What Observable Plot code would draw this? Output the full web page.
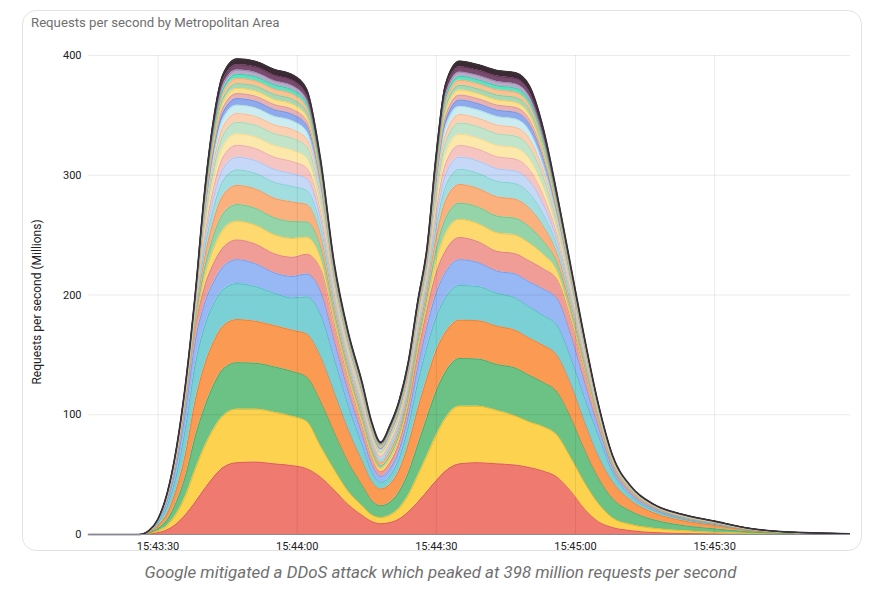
<!DOCTYPE html>
<html><head><meta charset="utf-8">
<script src="https://cdn.jsdelivr.net/npm/d3@7"></script>
<script src="https://cdn.jsdelivr.net/npm/@observablehq/plot@0.6"></script>
<style>
body{margin:0;background:#fff;font-family:Roboto,"Liberation Sans",Arial,sans-serif;}
#card{position:absolute;left:22px;top:10px;width:840px;height:541px;border:1px solid #e3e3e3;border-radius:14px;box-sizing:border-box;}
#title{position:absolute;left:31px;top:15px;font-size:13.2px;color:#6f6f6f;}
#chart{position:absolute;left:0;top:40px;}
#caption{position:absolute;left:0;width:881px;top:562px;text-align:center;font-style:italic;font-size:16.9px;color:#6f6f6f;}
</style></head><body>
<div id="card"></div>
<div id="title">Requests per second by Metropolitan Area</div>
<div id="chart"></div>
<div id="caption">Google mitigated a DDoS attack which peaked at 398 million requests per second</div>
<script>
const times = ["15:43:15","15:43:26","15:43:28","15:43:30","15:43:32","15:43:34","15:43:36","15:43:38","15:43:40","15:43:42","15:43:44","15:43:47","15:43:51","15:43:55","15:43:59","15:44:02","15:44:05","15:44:08","15:44:11","15:44:14","15:44:16","15:44:18","15:44:20","15:44:22","15:44:24","15:44:26","15:44:28","15:44:30","15:44:32","15:44:35","15:44:39","15:44:43","15:44:47","15:44:50","15:44:53","15:44:56","15:44:59","15:45:02","15:45:05","15:45:08","15:45:12","15:45:17","15:45:23","15:45:30","15:45:37","15:45:45","15:45:59"];
const xTicks = ["15:43:30","15:44:00","15:44:30","15:45:00","15:45:30"];
const yTicks = [0,100,200,300,400];

const a01 = [0,0,0.5,1.5,4,9,17,27,38,48,56,60,60.5,59,57.5,55,48,37,25,16,11,9,10,13,19,27,36,45,53,59,60,59,58,56,53,48,36,21,10.5,5.8,3.2,1.6,0.9,0.5,0.25,0.1,0.05];
const a02 = [0,0,0.3,1.5,3.5,8.5,16,27,35,40,43,44.5,44,43,41,39.5,26,17,11,8,5.5,5,6,9,14,22,30,38,44,48,47,44.5,41,38,37,35,28,22,15,8,5,3.5,2.2,1.2,0.6,0.25,0.1];
const a03 = [0,0,0.4,2,5,10,17,27.5,33,37,39,39,38.5,38,37.5,37,37,31,24,17,12,10,11,14,19,26,32,37,39,40,39.5,38.5,40,39,37,36,33,27,21,16,11,7,4.5,3,1.5,0.6,0.2];
const a04 = [0,0,0.5,2.5,5.5,11,19,30,35,36,36,36,35,34.5,34.5,36,37.5,33,27,20,16,14,15,18,24,30,33,34,33,32,32,32,31.5,31,31,30.5,28,23,18,14,9,5.8,4,2.8,1.2,0.5,0.1];
const a05 = [0,0,0.4,2.5,6,12,22,30,32.5,32,30.5,30,29,27,27,31,35,28,20,13,8,5.5,7,10,15,22,26,28,29,29,28.5,27.5,27,26,25,25,22,20,17,8,3.5,2,1.3,0.8,0.4,0.15,0.05];
const a06 = [0,0,0.2,1.5,4,8,14,19.5,19,18,19,20,19,17,18,19,19.5,15,12,9,6.5,5,6,7,9,13,17,20,21,21.5,20,18.5,20,21,22,22.5,19,13,7,3.5,2,1.2,0.8,0.5,0.25,0.1,0.03];
const a07 = [0,0,0.1,0.8,2.5,5,8,11,14,15.5,16,16.5,16.5,16,16,16.5,19,14,10,7,5.5,4,5,6,8,11,14,17,18,18.5,17.5,16.5,17,17.5,17,16,13,9,5,2.5,1.5,1,0.6,0.4,0.2,0.08,0.02];
const a08 = [0,0,0.1,0.1,0.5,1,1.6,2.9,8.1,12.4,14.8,15.5,15.7,15.8,15.7,14.2,9.5,5.2,4.1,3.8,3.1,2.5,3.2,3.6,3.8,4.5,5.3,10.2,14.3,15.1,15.1,15.5,15.5,15,12.1,7.4,4.6,2.9,1.5,0.8,0.5,0.3,0.26,0.2,0.11,0.05,0.01];
const a09 = [0,0,0.1,0.1,0.4,0.9,1.4,2.6,7.3,11.2,13.4,14,14.1,14.3,14.1,12.8,8.5,4.7,3.7,3.4,2.8,2.3,2.9,3.2,3.4,4.1,4.8,9.2,12.9,13.6,13.7,14,14,13.6,10.9,6.7,4.2,2.6,1.3,0.8,0.45,0.27,0.24,0.18,0.1,0.05,0.01];
const a10 = [0,0,0.1,0.1,0.5,1,1.6,3,8.3,12.8,15.3,16,16.2,16.3,16.2,14.6,9.8,5.4,4.2,3.9,3.2,2.6,3.3,3.7,3.9,4.7,5.5,10.5,14.7,15.6,15.6,16,16,15.5,12.5,7.6,4.8,3,1.5,0.9,0.5,0.3,0.27,0.21,0.12,0.05,0.01];
const a11 = [0,0,0.1,0.1,0.4,0.8,1.3,2.4,6.8,10.4,12.4,13,13.1,13.3,13.1,11.9,7.9,4.4,3.4,3.2,2.6,2.1,2.7,3,3.2,3.8,4.5,8.5,12,12.7,12.7,13,13,12.6,10.2,6.2,3.9,2.4,1.2,0.7,0.42,0.25,0.22,0.17,0.09,0.04,0.01];
const a12 = [0,0,0.05,0.05,0.3,0.7,1.1,1.9,5.5,8.4,10,10.5,10.6,10.7,10.6,9.6,6.4,3.5,2.8,2.6,2.1,1.7,2.2,2.4,2.6,3.1,3.6,6.9,9.7,10.2,10.3,10.5,10.5,10.2,8.2,5,3.1,1.9,1,0.57,0.34,0.2,0.18,0.14,0.08,0.03,0.01];
const a13 = [0,0,0.05,0.05,0.3,0.6,1,1.9,5.2,8,9.6,10,10.1,10.2,10.1,9.1,6.1,3.4,2.7,2.5,2,1.6,2.1,2.3,2.5,2.9,3.4,6.6,9.2,9.7,9.8,10,10,9.7,7.8,4.8,3,1.9,1,0.54,0.32,0.19,0.17,0.13,0.07,0.03,0.01];
const a14 = [0,0,0.05,0.05,0.3,0.6,1,1.8,4.9,7.6,9.1,9.5,9.6,9.7,9.6,8.7,5.8,3.2,2.5,2.3,1.9,1.5,2,2.2,2.3,2.8,3.3,6.2,8.7,9.3,9.3,9.5,9.5,9.2,7.4,4.5,2.8,1.8,0.9,0.51,0.3,0.18,0.16,0.12,0.07,0.03,0.01];
const a15 = [0,0,0.05,0.05,0.3,0.6,1,1.8,5,7.8,9.3,9.7,9.8,9.9,9.8,8.9,5.9,3.3,2.6,2.4,2,1.6,2,2.3,2.4,2.8,3.3,6.4,8.9,9.4,9.5,9.7,9.7,9.4,7.6,4.6,2.9,1.8,0.9,0.52,0.31,0.18,0.16,0.13,0.07,0.03,0.01];
const a16 = [0,0,0.04,0.04,0.2,0.5,0.7,1.4,3.8,5.8,7,7.3,7.4,7.4,7.4,6.7,4.5,2.5,1.9,1.8,1.5,1.2,1.5,1.7,1.8,2.1,2.5,4.8,6.7,7.1,7.1,7.3,7.3,7.1,5.7,3.5,2.2,1.4,0.7,0.39,0.23,0.14,0.12,0.09,0.05,0.02,0.01];
const a17 = [0,0,0.04,0.04,0.2,0.4,0.7,1.3,3.6,5.6,6.7,7,7.1,7.1,7.1,6.4,4.3,2.4,1.9,1.7,1.4,1.1,1.4,1.6,1.7,2,2.4,4.6,6.4,6.8,6.8,7,7,6.8,5.5,3.3,2.1,1.3,0.7,0.38,0.22,0.13,0.12,0.09,0.05,0.02,0.005];
const a18 = [0,0,0.03,0.03,0.17,0.35,0.55,1,2.9,4.4,5.3,5.5,5.6,5.6,5.6,5,3.4,1.9,1.5,1.35,1.1,0.9,1.1,1.3,1.35,1.6,1.9,3.6,5.1,5.4,5.4,5.5,5.5,5.3,4.3,2.6,1.6,1,0.53,0.3,0.18,0.1,0.09,0.07,0.04,0.02,0.004];
const a19 = [0,0,0.02,0.02,0.13,0.26,0.42,0.78,2.2,3.4,4,4.2,4.2,4.3,4.2,3.8,2.6,1.4,1.1,1,0.85,0.68,0.86,0.97,1,1.2,1.4,2.8,3.9,4.1,4.1,4.2,4.2,4.1,3.3,2,1.25,0.78,0.4,0.23,0.13,0.08,0.07,0.05,0.03,0.01,0.003];
const a20 = [0,0,0.02,0.02,0.12,0.27,0.43,0.8,2.2,3.3,4.1,4.2,4.3,4.2,4.2,3.9,2.5,1.4,1.1,1.05,0.85,0.7,0.85,0.98,1.05,1.2,1.45,2.7,3.9,4.1,4.2,4.2,4.2,4.1,3.2,2,1.2,0.8,0.4,0.22,0.14,0.08,0.07,0.05,0.03,0.01,0.003];
const a21 = [0,0,0.02,0.02,0.12,0.26,0.41,0.76,2.1,3.3,3.9,4.1,4.1,4.2,4.1,3.7,2.5,1.4,1.1,1,0.83,0.66,0.84,0.95,1,1.2,1.4,2.7,3.8,4,4,4.1,4.1,4,3.2,2,1.2,0.76,0.39,0.22,0.13,0.08,0.07,0.05,0.03,0.01,0.003];
const a22 = [0,0,0.02,0.02,0.13,0.27,0.43,0.8,2.2,3.4,4.1,4.3,4.3,4.4,4.3,3.9,2.6,1.5,1.1,1.05,0.87,0.7,0.88,1,1.05,1.25,1.5,2.8,4,4.2,4.2,4.3,4.3,4.2,3.4,2.1,1.3,0.8,0.41,0.23,0.14,0.08,0.07,0.06,0.03,0.01,0.003];
const a23 = [0,0,0.02,0.02,0.1,0.22,0.35,0.65,1.8,2.8,3.3,3.5,3.5,3.6,3.5,3.2,2.1,1.2,0.93,0.86,0.71,0.57,0.72,0.81,0.86,1,1.2,2.3,3.2,3.4,3.4,3.5,3.5,3.4,2.7,1.7,1,0.65,0.34,0.19,0.11,0.07,0.06,0.05,0.03,0.01,0.002];
const a24 = [0,0,0.02,0.02,0.11,0.21,0.36,0.64,1.8,2.7,3.4,3.5,3.6,3.5,3.5,3.1,2.2,1.2,0.92,0.87,0.7,0.58,0.7,0.82,0.87,1,1.2,2.3,3.2,3.4,3.5,3.5,3.5,3.4,2.8,1.6,1.05,0.64,0.33,0.19,0.11,0.07,0.06,0.05,0.03,0.01,0.002];
const a25 = [0,0,0.02,0.02,0.14,0.28,0.45,0.83,2.3,3.6,4.3,4.5,4.5,4.6,4.5,4.1,2.7,1.5,1.2,1.1,0.91,0.73,0.92,1,1.1,1.3,1.5,3,4.1,4.4,4.4,4.5,4.5,4.4,3.5,2.1,1.3,0.83,0.43,0.24,0.14,0.09,0.08,0.06,0.03,0.015,0.003];
const a26 = [0,0,0.02,0.02,0.14,0.3,0.47,0.87,2.4,3.8,4.5,4.7,4.7,4.8,4.7,4.3,2.9,1.6,1.2,1.15,0.95,0.76,0.96,1.1,1.15,1.4,1.6,3.1,4.3,4.6,4.6,4.7,4.7,4.6,3.7,2.2,1.4,0.87,0.45,0.25,0.15,0.09,0.08,0.06,0.03,0.016,0.003];

const seriesValues = [a01,a02,a03,a04,a05,a06,a07,a08,a09,a10,a11,a12,a13,a14,a15,a16,a17,a18,a19,a20,a21,a22,a23,a24,a25,a26];
const areaNames = seriesValues.map((_, i) => "Metro area " + (i + 1));
const fills = ["#ef7a70","#fcd24e","#6cc285","#fb9a52","#7bd0d5","#98b8f5","#f09d98","#fdd96f","#94d4a8","#fbb17e","#a2dde0","#c5d8f8","#f6c4c1","#fde8ab","#c1e4cb","#fcd1b3","#cbecf0","#8eaaec","#ebb0b0","#fce08f","#a7d8b5","#f9c293","#62e0c2","#b8a9c9","#7a4a6e","#3b2a33"];
const strokes = ["#d9574d","#e9b421","#48a563","#e67c2e","#4bb8be","#6f97ea","#de7d77","#eec04a","#6ebf89","#ef9357","#7ccbd0","#a3c0f0","#eba7a3","#f3d584","#9fd3ae","#f3b68f","#a6dce3","#6b8de0","#d99292","#f0c95e","#7fc696","#eea66c","#34c69f","#9383ab","#5a3050","#1f161b"];

const parse = s => new Date(Date.UTC(2022, 5, 1, +s.slice(0,2), +s.slice(3,5), +s.slice(6,8)));
const data = [];
seriesValues.forEach((vals, i) => {
  times.forEach((t, j) => {
    data.push({time: parse(t), area: areaNames[i], value: vals[j], fill: fills[i], stroke: strokes[i]});
  });
});
const xDomain = [parse("15:43:15"), new Date(parse("15:45:59").getTime() + 300)];
const fmt = d3.utcFormat("%H:%M:%S");

const chart = Plot.plot({
  width: 881, height: 518,
  marginLeft: 88, marginRight: 31, marginTop: 15, marginBottom: 24,
  x: {type: "utc", domain: xDomain},
  y: {domain: [0, 400]},
  color: {type: "identity"},
  style: {fontFamily: "Roboto, 'Liberation Sans', Arial, sans-serif", fontSize: "11px", color: "#202124", background: "transparent", overflow: "visible"},
  marks: [
    Plot.areaY(data, {x: "time", y: "value", z: "area", fill: d => d.fill, curve: "monotone-x"}),
    Plot.lineY(data, Plot.stackY2({x: "time", y: "value", z: "area", stroke: d => d.stroke, strokeWidth: 0.8, curve: "monotone-x"})),
    Plot.lineY(data, Plot.groupX({y: "sum"}, {x: "time", y: "value", stroke: "#3a3138", strokeWidth: 1.6, curve: "monotone-x"})),
    Plot.gridX(xTicks.map(parse), {stroke: "#000", strokeOpacity: 0.08}),
    Plot.gridY(yTicks.filter(v => v > 0), {stroke: "#000", strokeOpacity: 0.08}),
    Plot.ruleY([0], {stroke: "#8a8a9a", strokeWidth: 1}),
    Plot.axisX(xTicks.map(parse), {tickFormat: fmt, tickSize: 0, tickPadding: 8, label: null}),
    Plot.axisY(yTicks, {tickSize: 0, tickPadding: 7, label: null}),
    Plot.text(["Requests per second (Millions)"], {frameAnchor: "left", textAnchor: "middle", rotate: -90, dx: -51, dy: 7, fontSize: 12, fill: "#202124"})
  ]
});
document.getElementById("chart").appendChild(chart);
</script>
</body></html>
